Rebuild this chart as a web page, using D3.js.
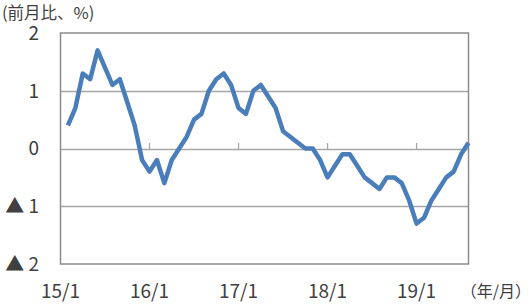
<!DOCTYPE html>
<html>
<head>
<meta charset="utf-8">
<script src="https://cdn.jsdelivr.net/npm/d3@7"></script>
<style>
	body { margin: 0; background: #fff; }
	svg text { font-family: "Noto Sans CJK JP", "DejaVu Sans", sans-serif; fill: #404040; }
</style>
</head>
<body>
<svg width="531" height="307"></svg>
<script>
// monthly change, % (15/2 .. 19/7)
var values = [
	0.4, 0.7, 1.3, 1.2, 1.7, 1.4, 1.1, 1.2, 0.8, 0.4, -0.2,
	-0.4, -0.2, -0.6, -0.2, 0.0, 0.2, 0.5, 0.6, 1.0, 1.2, 1.3, 1.1, 0.7,
	0.6, 1.0, 1.1, 0.9, 0.7, 0.3, 0.2, 0.1, 0.0, 0.0, -0.2, -0.5,
	-0.3, -0.1, -0.1, -0.3, -0.5, -0.6, -0.7, -0.5, -0.5, -0.6, -0.9, -1.3,
	-1.2, -0.9, -0.7, -0.5, -0.4, -0.1, 0.1
];
// index -1 = 15/1 (axis start), 11 = 16/1, ...
var tickIdx = [-1, 11, 23, 35, 47];
var tickLabels = ["15/1", "16/1", "17/1", "18/1", "19/1"];
var yTicks = [2, 1, 0, -1, -2];
var yLabels = ["2", "1", "0", "▲ 1", "▲ 2"];

var svg = d3.select("svg");

var plotLeft = 60.5, plotRight = 468.5, plotTop = 33, plotBottom = 264;

var x = d3.scaleLinear().domain([-1, values.length - 1]).range([plotLeft, plotRight]);
var y = d3.scaleLinear().domain([-2, 2]).range([plotBottom, plotTop]);

// gridlines
svg.append("g")
	.selectAll("line").data([1, 0, -1]).enter()
	.append("line")
	.attr("x1", plotLeft).attr("x2", plotRight)
	.attr("y1", function(d){ return Math.round(y(d)) + 0.5; })
	.attr("y2", function(d){ return Math.round(y(d)) + 0.5; })
	.attr("stroke", "#a6a6a6")
	.attr("stroke-width", 1.3);

// small ticks above the zero line
svg.append("g")
	.selectAll("line").data(tickIdx.slice(1)).enter()
	.append("line")
	.attr("x1", function(d){ return x(d); })
	.attr("x2", function(d){ return x(d); })
	.attr("y1", Math.round(y(0)) - 6)
	.attr("y2", Math.round(y(0)))
	.attr("stroke", "#a6a6a6")
	.attr("stroke-width", 1.3);

// frame
svg.append("rect")
	.attr("x", plotLeft).attr("y", plotTop)
	.attr("width", plotRight - plotLeft).attr("height", plotBottom - plotTop)
	.attr("fill", "none")
	.attr("stroke", "#8c8c8c")
	.attr("stroke-width", 1.5);

// y labels
svg.append("g")
	.selectAll("text").data(yTicks).enter()
	.append("text")
	.attr("x", 39)
	.attr("y", function(d){ return y(d); })
	.attr("dy", "0.36em")
	.attr("text-anchor", "end")
	.attr("font-size", 19)
	.text(function(d, i){ return yLabels[i]; });

// x labels
svg.append("g")
	.selectAll("text").data(tickIdx).enter()
	.append("text")
	.attr("x", function(d){ return x(d); })
	.attr("y", 298)
	.attr("text-anchor", "middle")
	.attr("font-size", 19)
	.text(function(d, i){ return tickLabels[i]; });

svg.append("text")
	.attr("x", 531).attr("y", 297)
	.attr("text-anchor", "end")
	.attr("font-size", 16)
	.text("（年/月）");

svg.append("text")
	.attr("x", 2).attr("y", 19)
	.attr("font-size", 16.5)
	.text("(前月比、%)");

// series
var line = d3.line()
	.x(function(d, i){ return x(i); })
	.y(function(d){ return y(d); });

svg.append("path")
	.datum(values)
	.attr("d", line)
	.attr("fill", "none")
	.attr("stroke", "#4a7ebb")
	.attr("stroke-width", 4.5)
	.attr("stroke-linejoin", "round");
</script>
</body>
</html>
